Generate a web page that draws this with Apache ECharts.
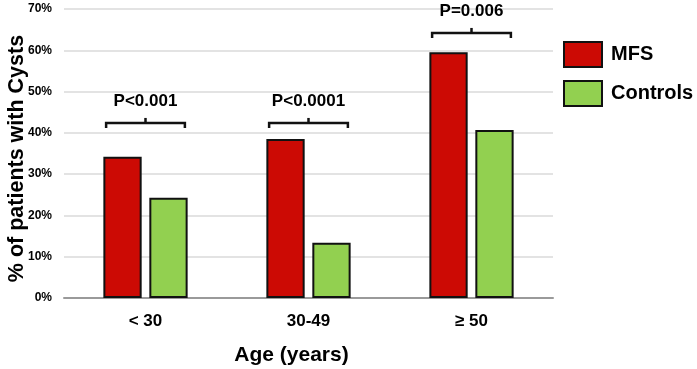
<!DOCTYPE html>
<html><head><meta charset="utf-8">
<script src="https://cdn.jsdelivr.net/npm/echarts@6/dist/echarts.min.js"></script>
<style>html,body{margin:0;padding:0;background:#fff}#c{width:697px;height:369px}</style>
</head><body><div id="c"></div>
<script>
const categories = ['< 30', '30-49', '\u2265 50'];
const mfs = [34.2, 38.5, 59.5];
const controls = [24.3, 13.4, 40.7];
const pLabels = ['P<0.001', 'P<0.0001', 'P=0.006'];
const bracketLevels = [42.4, 42.4, 64.2];
const yTicks = [0, 10, 20, 30, 40, 50, 60, 70];

const BAR_W = 0.235; // fraction of band
const GAP = 0.05;
const font = 'Liberation Sans, Arial, sans-serif';

const chart = echarts.init(document.getElementById('c'));
chart.setOption({
  animation: false,
  grid: {left: 64, right: 144, top: 9, bottom: 71, outerBoundsMode: 'none', containLabel: false},
  legend: {
    orient: 'vertical', left: 563, top: 41, padding: 0,
    itemWidth: 38, itemHeight: 25, itemGap: 12, icon: 'rect',
    textStyle: {fontFamily: font, fontWeight: 'bold', fontSize: 20, color: '#000', padding: [0,0,0,4]},
    data: ['MFS', 'Controls']
  },
  xAxis: {
    type: 'category', data: categories,
    axisTick: {show: false},
    axisLine: {lineStyle: {color: '#9a9a9a', width: 2}},
    axisLabel: {fontFamily: font, fontWeight: 'bold', fontSize: 17, color: '#000', margin: 15},
    name: 'Age (years)', nameLocation: 'middle', nameGap: 47, nameMoveOverlap: false,
    nameTextStyle: {fontFamily: font, fontWeight: 'bold', fontSize: 21, color: '#000', padding: [0, 34, 0, 0]}
  },
  yAxis: {
    type: 'value', min: 0, max: 70, interval: 10,
    axisLine: {show: false}, axisTick: {show: false},
    splitLine: {lineStyle: {color: '#e3e3e3', width: 2}},
    axisLabel: {fontFamily: font, fontWeight: 'bold', fontSize: 12, color: '#000', margin: 12,
      formatter: v => yTicks.includes(v) ? v + '%' : ''},
    name: '% of patients with Cysts', nameLocation: 'middle', nameGap: 36, nameMoveOverlap: false,
    nameTextStyle: {fontFamily: font, fontWeight: 'bold', fontSize: 21.5, color: '#000', padding: [0, 10, 0, 0]}
  },
  series: [
    {name: 'MFS', type: 'bar', data: mfs, barWidth: (BAR_W*100)+'%', barGap: '20%',
     itemStyle: {color: '#cc0a04', borderColor: '#111', borderWidth: 2}},
    {name: 'Controls', type: 'bar', data: controls, barWidth: (BAR_W*100)+'%',
     itemStyle: {color: '#92d050', borderColor: '#111', borderWidth: 2}},
    {type: 'custom', silent: true, z: 10,
     data: bracketLevels.map((v, i) => [i, v]),
     renderItem: function (params, api) {
       const i = api.value(0), lvl = api.value(1);
       const c = api.coord([i, lvl]);
       const band = api.size([1, 0])[0];
       const half = band * (BAR_W + GAP / 2) - 3;
       const x0 = c[0] - half, x1 = c[0] + half, y = c[1];
       return {type: 'group', children: [
         {type: 'polyline', shape: {points: [[x0, y + 5], [x0, y], [x1, y], [x1, y + 5]]},
          style: {stroke: '#111', lineWidth: 2.5, fill: null}},
         {type: 'line', shape: {x1: c[0], y1: y, x2: c[0], y2: y - 5},
          style: {stroke: '#111', lineWidth: 2.5}},
         {type: 'text', x: c[0], y: y - 22,
          style: {text: pLabels[i], fontFamily: font, fontWeight: 'bold', fontSize: 17,
                  fill: '#000', align: 'center', verticalAlign: 'middle'}}
       ]};
     }}
  ]
});
</script></body></html>
